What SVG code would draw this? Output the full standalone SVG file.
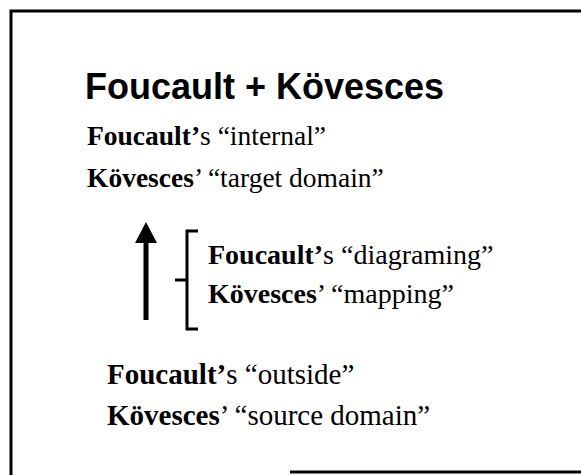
<svg xmlns="http://www.w3.org/2000/svg" width="581" height="475" viewBox="0 0 581 475">
<style>
.t{font-family:"Liberation Serif","Times New Roman",serif;fill:#000}
.s1{font-size:27.5px}
.s2{font-size:28px}
.s3{font-size:29px}
.b{font-weight:bold}
.title{font-family:"Liberation Sans",Arial,sans-serif;font-weight:bold;font-size:36px;fill:#000}
.ln{stroke:#000;fill:none}
</style>
<rect width="581" height="475" fill="#fff"/>
<g id="frame">
<path class="ln" d="M11,475 V11 H581" stroke-width="3"/>
<path class="ln" d="M290,472 H581" stroke-width="3"/>
</g>
<g id="title"><text class="title" x="85" y="99">Foucault + Kövesces</text></g>
<g id="target">
<text class="t s1" x="87" y="145"><tspan class="b">Foucault’</tspan>s “internal”</text>
<text class="t s1" x="87" y="187"><tspan class="b">Kövesces</tspan>’ “target domain”</text>
</g>
<g id="mapping">
<text class="t s2" x="208" y="264"><tspan class="b">Foucault’</tspan>s “diagraming”</text>
<text class="t s2" x="208" y="303"><tspan class="b">Kövesces</tspan>’ “mapping”</text>
</g>
<g id="source">
<text class="t s3" x="107" y="384"><tspan class="b">Foucault’</tspan>s “outside”</text>
<text class="t s3" x="107" y="425"><tspan class="b">Kövesces</tspan>’ “source domain”</text>
</g>
<g id="connectors">
<path d="M143.5,320 V243 H135 L146,222 L157,243 H148.5 V320 Z" fill="#000"/>
<path class="ln" d="M198,231 H187 V329 H198 M187,280 H175" stroke-width="3"/>
</g>
</svg>
